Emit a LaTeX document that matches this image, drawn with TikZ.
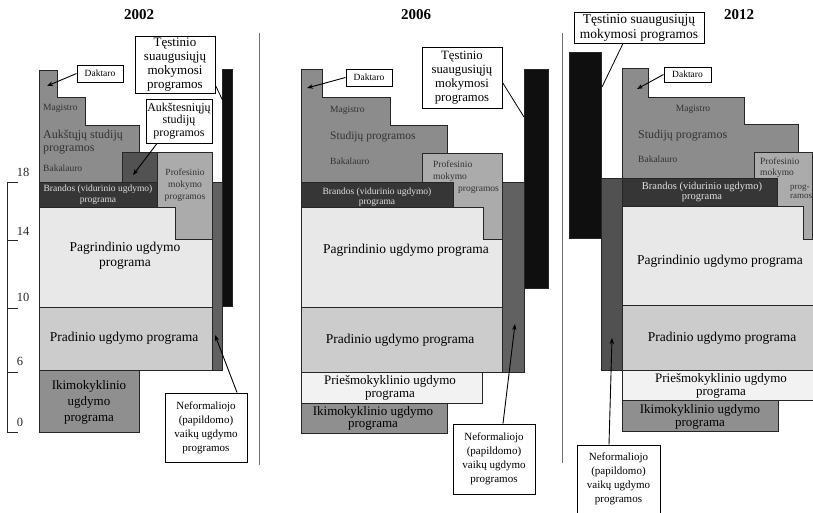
\documentclass[tikz,border=0pt]{standalone}
\usepackage{fontspec}
\setmainfont{Liberation Serif}
\usetikzlibrary{arrows.meta,calc}
\definecolor{cStud}{gray}{0.55}
\definecolor{cBrand}{gray}{0.21}
\definecolor{cAukst}{gray}{0.32}
\definecolor{cProf}{gray}{0.67}
\definecolor{cPagr}{gray}{0.91}
\definecolor{cPrad}{gray}{0.80}
\definecolor{cIki}{gray}{0.56}
\definecolor{cPries}{gray}{0.95}
\definecolor{cNef}{gray}{0.38}
\definecolor{cTest}{gray}{0.06}
\definecolor{cDiv}{gray}{0.45}
\newcommand{\fs}[2]{\fontsize{#1}{#2}\selectfont}
\begin{document}
\begin{tikzpicture}[x=1pt,y=-1pt,
  blk/.style={draw=black!85, line width=0.9pt, line join=miter},
  callout/.style={draw=black, fill=white, line width=1pt, align=center, inner sep=1pt, text=black},
  ptr/.style={-{Stealth[length=6pt,width=4.5pt]}, line width=0.9pt},
  lead/.style={line width=0.8pt},
  lbl/.style={align=center, inner sep=0pt, text=black},
  sml/.style={inner sep=0pt, text=black!80, align=left},
  brl/.style={inner sep=0pt, text=white!88!black, align=center},
  title/.style={inner sep=0pt, font=\fs{15}{17}\bfseries},
  divider/.style={draw=cDiv, line width=0.9pt},
  scl/.style={inner sep=0pt, font=\fs{12.5}{13}, text=black!85}]
\useasboundingbox (0,0) rectangle (813,512);
\clip (0,0) rectangle (813,512);

% ---------------- 2002 ----------------
\node[title] (t02) at (139,15) {2002};
\fill[cStud] (39,70) -- (57,70) -- (57,97) -- (85,97) -- (85,125) -- (139,125) -- (139,182) -- (39,182) -- cycle;
\draw[blk] (39,182) -- (39,70) -- (57,70) -- (57,97) -- (85,97) -- (85,125) -- (139,125) -- (139,152);
\draw[blk, fill=cAukst] (122,152) rectangle (157,182);
\draw[blk, fill=cPagr] (39,207) rectangle (212,307);
\draw[blk, fill=cProf] (157,152) -- (212,152) -- (212,239) -- (175,239) -- (175,207) -- (157,207) -- cycle;
\draw[blk, fill=cBrand] (39,182) rectangle (157,207);
\draw[blk, fill=cPrad] (39,307) rectangle (212,370);
\draw[blk, fill=cIki] (39,370) rectangle (139,432);
\draw[blk, fill=cNef] (212,182) rectangle (222,370);
\draw[blk, fill=cTest] (222,69) rectangle (232,306);

\node[sml, anchor=west, font=\fs{9.5}{10}] (mag02) at (43,108) {Magistro};
\node[sml, anchor=west, font=\fs{12}{12.5}] (aus02) at (43,142) {Aukštųjų studijų\\programos};
\node[sml, anchor=west, font=\fs{9.5}{10}] (bak02) at (43,168) {Bakalauro};
\node[brl, font=\fs{9.5}{11}] (bra02) at (98,195) {Brandos (vidurinio ugdymo)\\programa};
\node[lbl, text=black!80, font=\fs{9.5}{12}] (pro02) at (185,185) {Profesinio\\mokymo\\programos};
\node[lbl, font=\fs{13.5}{15}] (pag02) at (125,255.5) {Pagrindinio ugdymo\\programa};
\node[lbl, font=\fs{13.5}{15}] (pra02) at (124,338) {Pradinio ugdymo programa};
\node[lbl, font=\fs{13}{16}] (iki02) at (89,402) {Ikimokyklinio\\ugdymo\\programa};

\node[callout, minimum width=80, minimum height=57, font=\fs{13}{14}] (tes02) at (175,64.5) {Tęstinio\\suaugusiųjų\\mokymosi\\programos};
\node[callout, minimum width=46, minimum height=17, font=\fs{9.5}{10}] (dak02) at (100,73.5) {Daktaro};
\node[callout, minimum width=66, minimum height=44, font=\fs{12}{12.5}] (auk02) at (179,121) {Aukštesniųjų\\studijų\\programos};
\node[callout, minimum width=82, minimum height=69, font=\fs{11}{14}] (nef02) at (206,427.5) {Neformaliojo\\(papildomo)\\vaikų ugdymo\\programos};
\coordinate (tes02t) at (222.5,100);
\coordinate (dak02t) at (47,86);
\coordinate (auk02t) at (133,175);
\coordinate (nef02t) at (215,335);
\draw[lead] ($(tes02.south east)+(0,-8)$) -- (tes02t);
\draw[ptr] (dak02.west) -- (dak02t);
\draw[ptr] ($(auk02.south)+(-22,0)$) -- (auk02t);
\draw[ptr] ($(nef02.north)+(31,0)$) -- (nef02t);

% scale
\draw[line width=1pt, black!85] (18,182) -- (7,182) -- (7,432) -- (18,432);
\draw[line width=1pt, black!85] (7,240) -- (18,240) (7,308) -- (18,308) (7,372) -- (18,372);
\node[scl] (s18) at (23,172) {18};
\node[scl] (s14) at (23,231) {14};
\node[scl] (s10) at (23,297) {10};
\node[scl] (s6) at (20,361) {6};
\node[scl] (s0) at (20,422) {0};

\draw[divider] (259,33) -- (259,465);

% ---------------- 2006 ----------------
\node[title] (t06) at (416,15) {2006};
\fill[cStud] (301,69) -- (322,69) -- (322,97) -- (390,97) -- (390,125) -- (447,125) -- (447,182) -- (301,182) -- cycle;
\draw[blk] (301,182) -- (301,69) -- (322,69) -- (322,97) -- (390,97) -- (390,125) -- (447,125) -- (447,153);
\draw[blk, fill=cPagr] (301,207) rectangle (502,307);
\draw[blk, fill=cProf] (422,153) -- (502,153) -- (502,239) -- (483,239) -- (483,207) -- (422,207) -- cycle;
\draw[blk, fill=cBrand] (301,182) rectangle (453,207);
\draw[blk, fill=cPrad] (301,307) rectangle (502,372);
\draw[blk, fill=cPries] (301,372) rectangle (482,403);
\draw[blk, fill=cIki] (301,403) rectangle (447,433);
\draw[blk, fill=cNef] (502,182) rectangle (524,372);
\draw[blk, fill=cTest] (524,69) rectangle (548,288);

\node[sml, anchor=west, font=\fs{9.5}{10}] (mag06) at (330,110) {Magistro};
\node[sml, anchor=west, font=\fs{11.5}{12}] (stu06) at (330,137) {Studijų programos};
\node[sml, anchor=west, font=\fs{9.5}{10}] (bak06) at (330,161) {Bakalauro};
\node[brl, font=\fs{9.5}{9.5}] (bra06) at (377,197) {Brandos (vidurinio ugdymo)\\programa};
\node[sml, anchor=west, font=\fs{9.5}{12}] (pro06) at (433,171) {Profesinio\\mokymo};
\node[sml, anchor=west, font=\fs{9.5}{12}] (pro06b) at (458,190) {programos};
\node[lbl, font=\fs{13.5}{15}] (pag06) at (406,250) {Pagrindinio ugdymo programa};
\node[lbl, font=\fs{13.5}{15}] (pra06) at (400,340) {Pradinio ugdymo programa};
\node[lbl, font=\fs{13}{13}] (pri06) at (390,388) {Priešmokyklinio ugdymo\\programa};
\node[lbl, font=\fs{13}{12}] (iki06) at (373,418) {Ikimokyklinio ugdymo\\programa};

\node[callout, minimum width=80, minimum height=61, font=\fs{12.7}{14}] (tes06) at (462,77.5) {Tęstinio\\suaugusiųjų\\mokymosi\\programos};
\node[callout, minimum width=46, minimum height=17, font=\fs{9.5}{10}] (dak06) at (369,77.5) {Daktaro};
\node[callout, minimum width=82, minimum height=70, font=\fs{11}{14}] (nef06) at (494,459) {Neformaliojo\\(papildomo)\\vaikų ugdymo\\programos};
\coordinate (tes06t) at (524,117);
\coordinate (dak06t) at (307,88);
\coordinate (nef06t) at (515,324);
\draw[lead] ($(tes06.east)+(0,5)$) -- (tes06t);
\draw[ptr] (dak06.west) -- (dak06t);
\draw[ptr] ($(nef06.north)+(9,0)$) -- (nef06t);

\draw[divider] (562,33) -- (562,463);

% ---------------- 2012 ----------------
\node[title] (t12) at (739,15) {2012};
\draw[blk, fill=cTest] (569,52) rectangle (601,238);
\draw[blk, fill=cNef!110!white] (601,178) rectangle (622,370);
\fill[cStud] (622,68) -- (648,68) -- (648,97) -- (744,97) -- (744,124) -- (798,124) -- (798,178) -- (622,178) -- cycle;
\draw[blk] (622,178) -- (622,68) -- (648,68) -- (648,97) -- (744,97) -- (744,124) -- (798,124) -- (798,152);
\draw[blk, fill=cPagr] (622,206) rectangle (830,305);
\draw[blk, fill=cProf] (754,152) -- (812,152) -- (812,239) -- (803,239) -- (803,206) -- (754,206) -- cycle;
\draw[blk, fill=cBrand] (622,178) rectangle (777,206);
\draw[blk, fill=cPrad] (622,305) rectangle (830,370);
\draw[blk, fill=cPries] (622,370) rectangle (830,400);
\draw[blk, fill=cIki] (622,400) rectangle (778,431);

\node[sml, font=\fs{9.5}{10}] (mag12) at (693,109) {Magistro};
\node[sml, anchor=west, font=\fs{12}{12}] (stu12) at (638,136) {Studijų programos};
\node[sml, anchor=west, font=\fs{9.5}{10}] (bak12) at (638,159) {Bakalauro};
\node[brl, font=\fs{10.5}{9.5}] (bra12) at (702,192) {Brandos (vidurinio ugdymo)\\programa};
\node[sml, anchor=west, font=\fs{9.5}{11}] (pro12) at (760,167.5) {Profesinio\\mokymo};
\node[sml, anchor=west, font=\fs{9}{8.5}] (pro12b) at (790,191.5) {prog-\\ramos};
\node[lbl, font=\fs{13.5}{15}] (pag12) at (720,261) {Pagrindinio ugdymo programa};
\node[lbl, font=\fs{13.5}{15}] (pra12) at (722,338) {Pradinio ugdymo programa};
\node[lbl, font=\fs{13}{13}] (pri12) at (721,385.5) {Priešmokyklinio ugdymo\\programa};
\node[lbl, font=\fs{13}{13}] (iki12) at (700,416.5) {Ikimokyklinio ugdymo\\programa};

\node[callout, minimum width=130, minimum height=31, font=\fs{13.5}{15}] (tes12) at (639,27.5) {Tęstinio suaugusiųjų\\mokymosi programos};
\node[callout, minimum width=47, minimum height=15, font=\fs{9.5}{10}] (dak12) at (687.5,74.5) {Daktaro};
\node[callout, minimum width=83, minimum height=68, font=\fs{11}{14}] (nef12) at (618.5,479) {Neformaliojo\\(papildomo)\\vaikų ugdymo\\programos};
\coordinate (tes12t) at (602,87);
\coordinate (dak12t) at (637,89);
\coordinate (nef12t) at (612,338);
\draw[lead] ($(tes12.south)+(-16,0)$) -- (tes12t);
\draw[ptr] (dak12.west) -- (dak12t);
\draw[ptr] ($(nef12.north)+(-9.5,0)$) -- (nef12t);
\end{tikzpicture}
\end{document}
